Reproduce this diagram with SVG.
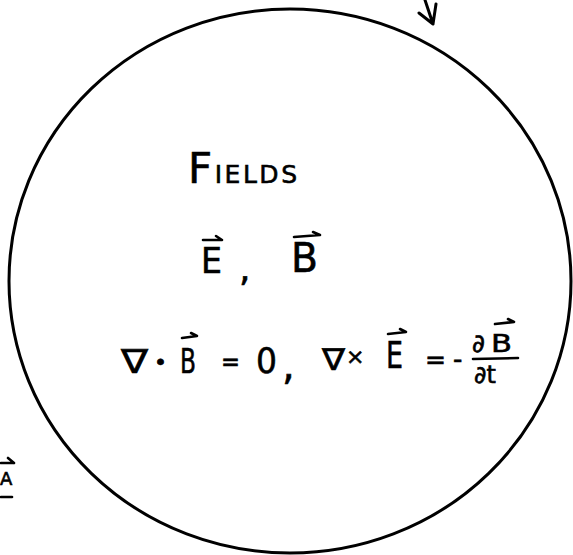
<svg xmlns="http://www.w3.org/2000/svg" width="573" height="555" viewBox="0 0 573 555">
  <style>
    .ink { fill: #000; font-family: "DejaVu Sans", "Liberation Sans", sans-serif; stroke: #000; stroke-width: 0.6; }
    .pen { fill: none; stroke: #000; stroke-width: 3; stroke-linecap: round; stroke-linejoin: round; }
    .vec { fill: none; stroke: #000; stroke-width: 2.6; stroke-linecap: round; stroke-linejoin: round; }
  </style>
  <rect width="573" height="555" fill="#fff"/>

  <g id="connectors">
    <path class="pen" d="M425,0 L433,24 M419,13 L433,24 L436,4"/>
  </g>

  <g id="fields-node">
    <ellipse class="pen" cx="290" cy="281" rx="281" ry="272"/>

    <text class="ink" x="188" y="183" textLength="109" lengthAdjust="spacing"><tspan font-size="42">F</tspan><tspan font-size="25">IELDS</tspan></text>

    <g id="fields-vectors">
      <text class="ink" x="201" y="273" font-size="35" textLength="21" lengthAdjust="spacingAndGlyphs">E</text>
      <path class="vec" d="M203,240 L222,240 M216,236 L222,240"/>
      <text class="ink" x="239" y="281" font-size="36">,</text>
      <text class="ink" x="291" y="272" font-size="41" textLength="27" lengthAdjust="spacingAndGlyphs">B</text>
      <path class="vec" d="M294,237 L320,235 M313,232 L320,235"/>
    </g>

    <g id="maxwell-equations">
      <text class="ink" x="121" y="373" font-size="33" textLength="27" lengthAdjust="spacingAndGlyphs">∇</text>
      <text class="ink" x="154" y="370" font-size="22">•</text>
      <text class="ink" x="180" y="373" font-size="34" textLength="16" lengthAdjust="spacingAndGlyphs">B</text>
      <path class="vec" d="M182,338 L197,336 M191,333 L197,336"/>
      <text class="ink" x="221" y="371" font-size="26" textLength="19" lengthAdjust="spacingAndGlyphs">=</text>
      <text class="ink" x="256" y="373" font-size="36" textLength="21" lengthAdjust="spacingAndGlyphs">0</text>
      <text class="ink" x="282" y="379" font-size="40">,</text>

      <text class="ink" x="322" y="370" font-size="30" textLength="23" lengthAdjust="spacingAndGlyphs">∇</text>
      <text class="ink" x="346" y="364" font-size="22">×</text>
      <text class="ink" x="386" y="368" font-size="38" textLength="17" lengthAdjust="spacingAndGlyphs">E</text>
      <path class="vec" d="M388,334 L406,332 M400,329 L406,332"/>
      <text class="ink" x="425" y="369" font-size="26" textLength="21" lengthAdjust="spacingAndGlyphs">=</text>
      <text class="ink" x="453" y="368" font-size="26">-</text>
      <text class="ink" x="472" y="352" font-size="25">∂</text>
      <text class="ink" x="491" y="352" font-size="25" textLength="21" lengthAdjust="spacingAndGlyphs">B</text>
      <path class="vec" d="M495,324 L514,322 M508,319 L514,322"/>
      <path class="vec" d="M473,359 L518,358"/>
      <text class="ink" x="474" y="383" font-size="24">∂t</text>
    </g>
  </g>

  <g id="edge-fragment">
    <text class="ink" x="0" y="485" font-size="18">A</text>
    <path class="vec" d="M1,463 L14,463 M8,458 L14,463"/>
    <path class="vec" d="M1,497 L12,497"/>
  </g>
</svg>
